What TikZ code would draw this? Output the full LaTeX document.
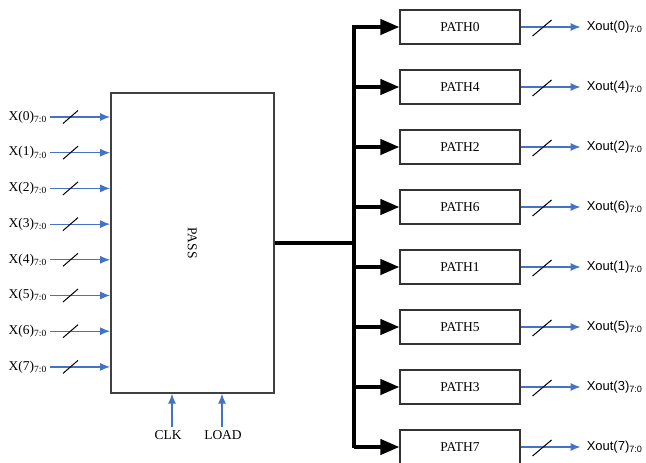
\documentclass[tikz,border=0pt]{standalone}
\usepackage{fontspec}
\setmainfont{Liberation Serif}
\newfontfamily\outfont{Liberation Sans}
\usetikzlibrary{arrows.meta,positioning,calc}
\definecolor{sigblue}{RGB}{68,114,196}

\begin{document}
\begin{tikzpicture}[x=1pt, y=-1pt, font=\fontsize{13.5}{15}\selectfont,
    blockbox/.style={draw=black!80, line width=1.1pt, minimum width=120pt, minimum height=34pt, inner sep=0pt},
    sigline/.style={draw=sigblue, line width=1.2pt, -{Latex[length=10pt,width=8pt]}},
    busline/.style={draw=black, line width=4pt},
    busmark/.style={draw=black, line width=1pt}]
    \useasboundingbox (0,0) rectangle (646,463);

    % Main block
    \node[draw=black!75, line width=1.4pt, minimum width=163pt, minimum height=300pt, inner sep=0pt] (pass) at (192.3,243) {};
    \node[rotate=-90] (passtext) at (pass.center) {PASS};

    % Inputs
    \foreach \i in {0,...,7}
    {
    \node[anchor=east, inner sep=1pt] (xin\i) at (48,117+35.7*\i) {X(\i)\textsubscript{7:0}};
    \draw[sigline] (xin\i.east) ++(2,0) -- (pass.west |- xin\i.east);
    \draw[busmark] ($(xin\i.east)+(15,6.5)$) -- ++(15,-13);
    }

    % Control inputs
    \node (clk) at (168,435) {CLK};
    \node (load) at (223,435) {LOAD};
    \draw[sigline] ($(clk.north)+(4,0)$) -- ($(clk.north |- pass.south)+(4,0)$);
    \draw[sigline] ($(load.north)+(-1,0)$) -- ($(load.north |- pass.south)+(-1,0)$);

    % Output bus
    \coordinate (bustop) at (354,27);
    \coordinate (busbot) at (354,446);
    \draw[busline] (pass.east) -- (pass.east -| bustop);
    \draw[busline, line cap=rect] (bustop) -- (busbot);

    % Path blocks
    \foreach \name/\k in {0/0,4/1,2/2,6/3,1/4,5/5,3/6,7/7}
    {
    \node[blockbox] (path\name) at (460,27+60*\k) {PATH\name};
    \draw[busline, -{Triangle[length=19pt,width=15pt]}] (bustop |- path\name.west) -- (path\name.west);
    \node[anchor=west, inner sep=0pt, font=\outfont\fontsize{13}{15}\selectfont] (xout\name) at ($(path\name.east)+(66,0)$) {Xout(\name)\textsubscript{7:0}};
    \draw[sigline] (path\name.east) -- ($(xout\name.west)+(-6,0)$);
    \draw[busmark] ($(path\name.east)+(12,9)$) -- ++(19,-16);
    }
\end{tikzpicture}
\end{document}
